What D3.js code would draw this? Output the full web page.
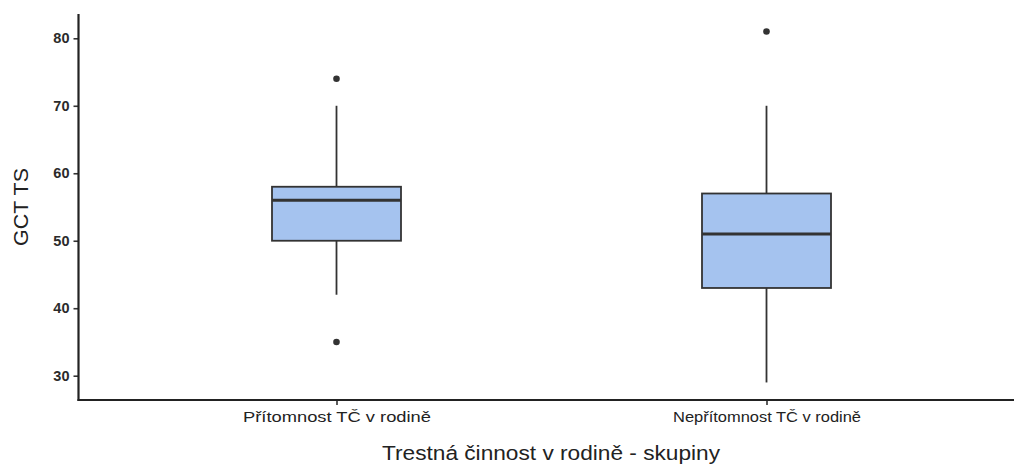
<!DOCTYPE html>
<html><head><meta charset="utf-8">
<script src="https://cdn.jsdelivr.net/npm/d3@7"></script>
<style>body{margin:0;background:#fff}svg{display:block}text{font-family:"Liberation Sans",Arial,sans-serif}</style>
</head><body><svg id="c" width="1014" height="466"></svg>
<script>
const categories = ["Přítomnost TČ v rodině", "Nepřítomnost TČ v rodině"];
const lowerWhisker = [42, 29];
const q1 = [50, 43];
const median = [56, 51];
const q3 = [58, 57];
const upperWhisker = [70, 70];
const outliers = [[74, 35], [81]];
const yTicks = [30, 40, 50, 60, 70, 80];

(function () {
const svg = d3.select("#c");
const padLeft = 78.5, padTop = 14, padBottom = 400;
const x = d3.scaleLinear().domain([0.4, 2.6]).range([padLeft, padLeft + 2.2 * 430]);
const y = d3.scaleLinear().domain([26.4, 83.6]).range([padBottom, padTop]);
const ink = "#333333";
const boxW = 0.3;

const data = categories.map((c, i) => ({c, i: i + 1, lw: lowerWhisker[i], q1: q1[i], med: median[i], q3: q3[i], uw: upperWhisker[i], out: outliers[i]}));

const g = svg.append("g");
data.forEach(d => {
  const cx = x(d.i);
  g.append("line").attr("x1", cx).attr("x2", cx).attr("y1", y(d.uw)).attr("y2", y(d.q3)).attr("stroke", ink).attr("stroke-width", 1.8);
  g.append("line").attr("x1", cx).attr("x2", cx).attr("y1", y(d.q1)).attr("y2", y(d.lw)).attr("stroke", ink).attr("stroke-width", 1.8);
  g.append("rect").attr("x", x(d.i - boxW / 2)).attr("width", x(d.i + boxW / 2) - x(d.i - boxW / 2))
    .attr("y", y(d.q3)).attr("height", y(d.q1) - y(d.q3))
    .attr("fill", "#a5c3ef").attr("stroke", ink).attr("stroke-width", 1.8);
  g.append("line").attr("x1", x(d.i - boxW / 2)).attr("x2", x(d.i + boxW / 2)).attr("y1", y(d.med)).attr("y2", y(d.med)).attr("stroke", ink).attr("stroke-width", 3);
  d.out.forEach(v => g.append("circle").attr("cx", cx).attr("cy", y(v)).attr("r", 3.3).attr("fill", ink));
});

const ya = svg.append("g").attr("transform", `translate(${padLeft},0)`)
  .call(d3.axisLeft(y).tickValues(yTicks).tickSize(5).tickPadding(4));
ya.select(".domain").remove();
ya.selectAll(".tick line").attr("stroke", ink).attr("stroke-width", 1.6);
ya.selectAll(".tick text").attr("fill", "#2b2b2b").attr("font-size", 14.5).attr("font-weight", "bold");
svg.append("line").attr("x1", padLeft).attr("x2", padLeft).attr("y1", padTop).attr("y2", padBottom + 1).attr("stroke", "#222").attr("stroke-width", 2.2);

const xa = svg.append("g").attr("transform", `translate(0,${padBottom})`)
  .call(d3.axisBottom(x).tickValues([1, 2]).tickFormat(v => categories[v - 1]).tickSize(5).tickPadding(7));
xa.select(".domain").remove();
xa.selectAll(".tick line").attr("stroke", ink).attr("stroke-width", 1.6);
xa.selectAll(".tick text").attr("fill", "#222").attr("font-size", 14).attr("textLength", 188).attr("lengthAdjust", "spacingAndGlyphs");
svg.append("line").attr("x1", padLeft - 1).attr("x2", 1014).attr("y1", padBottom).attr("y2", padBottom).attr("stroke", "#222").attr("stroke-width", 2.2);

svg.append("text").attr("x", 551).attr("y", 460).attr("text-anchor", "middle").attr("font-size", 20.5).attr("fill", "#222")
  .attr("textLength", 338).attr("lengthAdjust", "spacingAndGlyphs").text("Trestná činnost v rodině - skupiny");
svg.append("text").attr("transform", `translate(28,207) rotate(-90)`).attr("text-anchor", "middle").attr("font-size", 20.5).attr("fill", "#222")
  .attr("textLength", 78).attr("lengthAdjust", "spacingAndGlyphs").text("GCT TS");
})();
</script></body></html>
